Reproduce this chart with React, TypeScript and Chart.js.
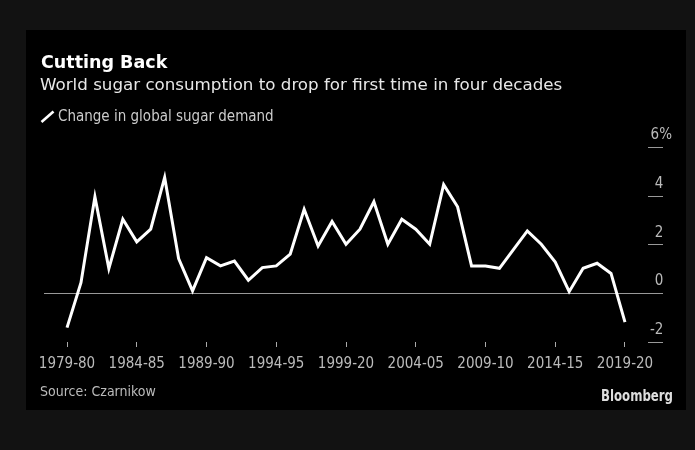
import React, { useEffect, useRef } from "react";
import { Chart, registerables } from "chart.js";

Chart.register(...registerables);

const seasons = [
  "1979-80", "1980-81", "1981-82", "1982-83", "1983-84", "1984-85", "1985-86", "1986-87",
  "1987-88", "1988-89", "1989-90", "1990-91", "1991-92", "1992-93", "1993-94", "1994-95",
  "1995-96", "1996-97", "1997-98", "1998-99", "1999-00", "2000-01", "2001-02", "2002-03",
  "2003-04", "2004-05", "2005-06", "2006-07", "2007-08", "2008-09", "2009-10", "2010-11",
  "2011-12", "2012-13", "2013-14", "2014-15", "2015-16", "2016-17", "2017-18", "2018-19",
  "2019-20",
];

const demandChange = [
  -1.41, 0.44, 3.97, 1.02, 3.05, 2.12, 2.64, 4.77,
  1.43, 0.1, 1.47, 1.13, 1.33, 0.54, 1.06, 1.13,
  1.61, 3.46, 1.95, 2.96, 2.02, 2.64, 3.77, 2.02,
  3.05, 2.64, 2.02, 4.47, 3.56, 1.13, 1.13, 1.03,
  1.8, 2.57, 2.02, 1.29, 0.07, 1.03, 1.24, 0.82,
  -1.18,
];

const xTickLabels = [
  "1979-80", "1984-85", "1989-90", "1994-95", "1999-20",
  "2004-05", "2009-10", "2014-15", "2019-20",
];

const yMin = -2;
const yMax = 6;
const yStep = 2;

const titleText = "Cutting Back";
const subtitleText = "World sugar consumption to drop for first time in four decades";
const seriesLabel = "Change in global sugar demand";
const sourceText = "Source: Czarnikow";
const brandText = "Bloomberg";

const FONT = "'DejaVu Sans Condensed', 'DejaVu Sans', sans-serif";
const FONT_WIDE = "'DejaVu Sans', sans-serif";

const decor = {
  id: "decor",
  beforeDraw(chart: any) {
    const ctx = chart.ctx;
    ctx.save();
    ctx.fillStyle = "#121212";
    ctx.fillRect(0, 0, chart.width, chart.height);
    ctx.fillStyle = "#000000";
    ctx.fillRect(26, 30, 660, 380);
    ctx.restore();
  },
  afterDraw(chart: any) {
    const ctx = chart.ctx;
    ctx.save();
    ctx.textBaseline = "alphabetic";
    ctx.textAlign = "left";

    ctx.fillStyle = "#ffffff";
    ctx.font = `bold 17.5px ${FONT_WIDE}`;
    ctx.fillText(titleText, 41, 68);

    ctx.fillStyle = "#e8e8e8";
    ctx.font = `16.7px ${FONT_WIDE}`;
    ctx.fillText(subtitleText, 40, 90);

    // legend
    ctx.strokeStyle = "#ffffff";
    ctx.lineWidth = 2.6;
    ctx.lineCap = "butt";
    ctx.beginPath();
    ctx.moveTo(41.5, 122);
    ctx.lineTo(53.5, 111.5);
    ctx.stroke();
    ctx.fillStyle = "#cccccc";
    ctx.font = `15px ${FONT}`;
    ctx.fillText(chart.data.datasets[0].label, 58, 121);

    ctx.fillStyle = "#bbbbbb";
    ctx.font = `14px ${FONT}`;
    ctx.fillText(sourceText, 40, 396);

    ctx.fillStyle = "#dddddd";
    ctx.font = `bold 15px ${FONT}`;
    ctx.textAlign = "right";
    ctx.fillText(brandText, 673, 401, 72);
    ctx.restore();
  },
};

export default function App() {
  const ref = useRef<HTMLCanvasElement | null>(null);

  useEffect(() => {
    if (!ref.current) return;
    const points = demandChange.map((v, i) => ({ x: i, y: v }));
    const chart = new Chart(ref.current, {
      type: "line",
      data: {
        datasets: [
          {
            label: seriesLabel,
            data: points,
            borderColor: "#ffffff",
            borderWidth: 3,
            pointRadius: 0,
            tension: 0,
            borderJoinStyle: "miter",
            clip: false as any,
          },
        ],
      },
      options: {
        animation: false,
        responsive: false,
        maintainAspectRatio: false,
        layout: { padding: { left: 44, top: 147.5, right: 23, bottom: 78 } },
        plugins: {
          legend: { display: false },
          title: { display: false },
          tooltip: { enabled: false },
        },
        scales: {
          x: {
            type: "linear",
            min: -1.65,
            max: seasons.length - 1 + 1.65,
            afterFit: (scale: any) => {
              scale.height = 30;
            },
            grid: {
              drawOnChartArea: false,
              drawTicks: true,
              tickLength: 5,
              color: "#aaaaaa",
              tickColor: "#aaaaaa",
            },
            border: { display: false },
            ticks: {
              stepSize: 5,
              includeBounds: false,
              autoSkip: false,
              maxRotation: 0,
              padding: 8,
              color: "#bbbbbb",
              font: { family: FONT, size: 15 },
              callback: (value: any) => {
                const idx = Math.round(Number(value) / 5);
                return xTickLabels[idx] ?? "";
              },
            },
          },
          y: {
            position: "right",
            min: yMin,
            max: yMax,
            afterFit: (scale: any) => {
              scale.width = 24;
            },
            grid: {
              drawOnChartArea: true,
              drawTicks: true,
              tickLength: 15,
              color: (c: any) => (c.tick && c.tick.value === 0 ? "#999999" : "rgba(0,0,0,0)"),
              tickColor: "#999999",
            },
            border: { display: false },
            ticks: {
              stepSize: yStep,
              crossAlign: "far",
              padding: 0,
              labelOffset: -12,
              color: "#bbbbbb",
              font: { family: FONT, size: 15 },
              callback: (value: any) => (Number(value) === yMax ? `${value}%` : `${value}  `),
            },
          },
        },
      },
      plugins: [decor],
    });
    return () => chart.destroy();
  }, []);

  return (
    <div style={{ position: "fixed", left: 0, top: 0, width: 695, height: 450, background: "#121212" }}>
      <canvas ref={ref} width={695} height={450} style={{ display: "block", width: 695, height: 450 }} />
    </div>
  );
}
